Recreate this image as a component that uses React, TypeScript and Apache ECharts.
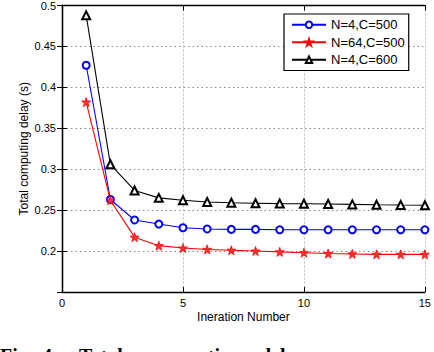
import React, { useEffect, useRef } from "react";
import * as echarts from "echarts";

const iterations = [1, 2, 3, 4, 5, 6, 7, 8, 9, 10, 11, 12, 13, 14, 15];
const seriesNames = ["N=4,C=500", "N=64,C=500", "N=4,C=600"];
const n4c500 = [0.427, 0.263, 0.238, 0.233, 0.2285, 0.227, 0.2265, 0.2265, 0.226, 0.226, 0.226, 0.226, 0.226, 0.226, 0.226];
const n64c500 = [0.382, 0.262, 0.217, 0.2066, 0.2037, 0.202, 0.201, 0.2, 0.199, 0.198, 0.197, 0.1965, 0.196, 0.196, 0.196];
const n4c600 = [0.488, 0.306, 0.274, 0.265, 0.262, 0.26, 0.259, 0.2585, 0.258, 0.2578, 0.2575, 0.257, 0.2565, 0.2562, 0.256];
const yTickLabels = ["0.2", "0.25", "0.3", "0.35", "0.4", "0.45", "0.5"];
const xTickLabels = ["0", "5", "10", "15"];
const captionWords = ["Fig.", "4:", "Total", "computing", "delay"];

const STAR =
  "path://M50,0 L61.8,36.2 L100,36.2 L69.1,58.8 L80.9,95.1 L50,72.7 L19.1,95.1 L30.9,58.8 L0,36.2 L38.2,36.2 Z";

export default function App() {
  const ref = useRef<HTMLDivElement>(null);
  useEffect(() => {
    if (!ref.current) return;
    const chart = echarts.init(ref.current, null, { renderer: "svg" });
    const font = "'Liberation Sans', Arial, sans-serif";
    const mk = (vals: number[]) => iterations.map((x, i) => [x, vals[i]]);
    const axisLine = { show: true, lineStyle: { color: "#000", width: 1.3 } };
    const axisTick = { show: true, inside: true, length: 5, lineStyle: { color: "#000", width: 1 } };
    const captionX = [0, 42, 79, 150, 260];
    chart.setOption({
      animation: false,
      backgroundColor: "#fff",
      textStyle: { fontFamily: font },
      grid: { left: 62, top: 4.5, right: 6, bottom: 60, containLabel: false },
      legend: {
        orient: "vertical",
        left: 284,
        top: 14,
        padding: [3, 4, 3, 7],
        itemGap: 2,
        itemWidth: 34,
        itemHeight: 8,
        borderColor: "#000",
        borderWidth: 1.2,
        borderRadius: 0,
        backgroundColor: "#fff",
        textStyle: { fontSize: 13, color: "#000", fontFamily: font, lineHeight: 15.5 },
        data: seriesNames,
      },
      xAxis: [
        {
          type: "value",
          min: 0,
          max: 15,
          interval: 5,
          name: "Ineration Number",
          nameLocation: "middle",
          nameGap: 19,
          nameMoveOverlap: false,
          nameTextStyle: { fontSize: 12, color: "#000", fontFamily: font },
          axisLine,
          axisTick,
          axisLabel: {
            fontSize: 11,
            color: "#000",
            margin: 5,
            fontFamily: font,
            formatter: (v: number) => (xTickLabels.includes(String(v)) ? String(v) : ""),
          },
          splitLine: { show: true, lineStyle: { color: "#bbb", type: [2, 2], width: 1 } },
        },
        {
          type: "value",
          position: "top",
          min: 0,
          max: 15,
          interval: 5,
          axisLine,
          axisTick,
          axisLabel: { show: false },
          splitLine: { show: false },
        },
      ],
      yAxis: [
        {
          type: "value",
          min: 0.15,
          max: 0.5,
          interval: 0.05,
          name: "Total computing delay (s)",
          nameLocation: "middle",
          nameGap: 32,
          nameMoveOverlap: false,
          nameTextStyle: { fontSize: 12, color: "#000", fontFamily: font },
          axisLine,
          axisTick,
          axisLabel: {
            fontSize: 11,
            color: "#000",
            margin: 6,
            fontFamily: font,
            formatter: (v: number) => {
              const s = String(Math.round(v * 100) / 100);
              return yTickLabels.includes(s) ? s : "";
            },
          },
          splitLine: { show: true, lineStyle: { color: "#888", type: [1.5, 3], width: 1 } },
        },
        {
          type: "value",
          position: "right",
          min: 0.15,
          max: 0.5,
          interval: 0.05,
          axisLine,
          axisTick,
          axisLabel: { show: false },
          splitLine: { show: false },
        },
      ],
      series: [
        {
          name: seriesNames[0],
          type: "line",
          data: mk(n4c500),
          symbol: "emptyCircle",
          symbolSize: 7,
          color: "#0000ff",
          lineStyle: { color: "#0000ff", width: 1.1 },
          itemStyle: { color: "#0000ff", borderWidth: 1.2 },
        },
        {
          name: seriesNames[1],
          type: "line",
          data: mk(n64c500),
          symbol: STAR,
          symbolSize: 9,
          color: "#ff0000",
          lineStyle: { color: "#ff0000", width: 1.1 },
          itemStyle: { color: "#ff3030", borderColor: "#ff0000", borderWidth: 0.8 },
        },
        {
          name: seriesNames[2],
          type: "line",
          data: mk(n4c600),
          symbol: "emptyTriangle",
          symbolSize: 8,
          color: "#000",
          lineStyle: { color: "#000", width: 1.1 },
          itemStyle: { color: "#000", borderWidth: 1.2 },
        },
      ],
      graphic: captionWords.map((w, i) => ({
        type: "text",
        x: captionX[i],
        y: 366,
        style: {
          text: w,
          fontFamily: "'Liberation Serif', serif",
          fontWeight: "bold",
          fontSize: 20,
          fill: "#000",
          verticalAlign: "bottom",
        },
      })),
    });
    return () => chart.dispose();
  }, []);
  return (
    <div
      ref={ref}
      style={{ position: "fixed", left: 0, top: 0, width: 434, height: 352, background: "#fff" }}
    />
  );
}
